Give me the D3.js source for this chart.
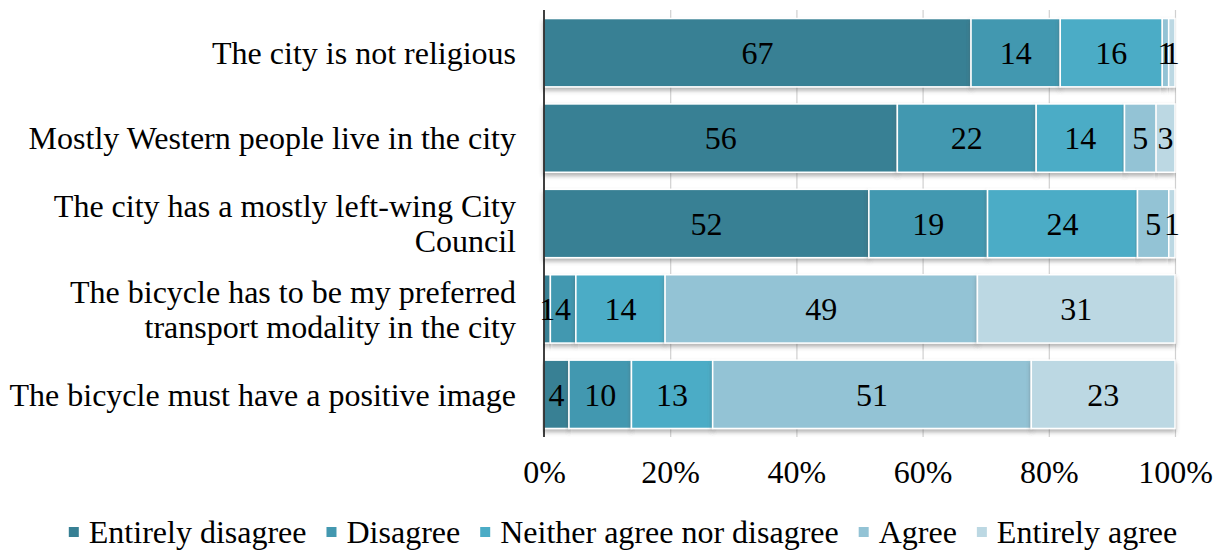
<!DOCTYPE html>
<html>
<head>
<meta charset="utf-8">
<script src="https://cdn.jsdelivr.net/npm/d3@7"></script>
<style>
  body { margin: 0; background: #fff; }
  text { font-family: "Liberation Serif", "Times New Roman", serif; fill: #000; }
</style>
</head>
<body>
<div id="chart"></div>
<script>
// data
const categories = [
  "The city is not religious",
  "Mostly Western people live in the city",
  "The city has a mostly left-wing City Council",
  "The bicycle has to be my preferred transport modality in the city",
  "The bicycle must have a positive image"
];
const categoryLines = [
  ["The city is not religious"],
  ["Mostly Western people live in the city"],
  ["The city has a mostly left-wing City", "Council"],
  ["The bicycle has to be my preferred", "transport modality in the city"],
  ["The bicycle must have a positive image"]
];
const seriesNames = ["Entirely disagree", "Disagree", "Neither agree nor disagree", "Agree", "Entirely agree"];
const entirelyDisagree = [67, 56, 52, 1, 4];
const disagree         = [14, 22, 19, 4, 10];
const neither          = [16, 14, 24, 14, 13];
const agree            = [1, 5, 5, 49, 51];
const entirelyAgree    = [1, 3, 1, 31, 23];
const tickValues = [0, 0.2, 0.4, 0.6, 0.8, 1];
const palette = ["#378094", "#4398b0", "#4bacc6", "#93c3d5", "#bcd8e3"];

const allSeries = [entirelyDisagree, disagree, neither, agree, entirelyAgree];
const keys = ["s0", "s1", "s2", "s3", "s4"];
const rows = categories.map((c, i) => {
  const r = {cat: c};
  keys.forEach((k, j) => r[k] = allSeries[j][i]);
  return r;
});

const W = 1217, H = 550;
const margin = {left: 544, right: 42, top: 10, bottom: 113};
const width = W - margin.left - margin.right;
const height = H - margin.top - margin.bottom;
const fs = "32px";

const svg = d3.select("#chart").append("svg")
  .attr("width", W).attr("height", H);

const defs = svg.append("defs");
const f = defs.append("filter").attr("id", "shadow")
  .attr("x", "-5%").attr("y", "-20%").attr("width", "110%").attr("height", "150%");
f.append("feDropShadow").attr("dx", 0).attr("dy", 3).attr("stdDeviation", 2)
  .attr("flood-color", "#555").attr("flood-opacity", 0.45);

const g = svg.append("g").attr("transform", "translate(" + margin.left + "," + margin.top + ")");

const x = d3.scaleLinear().domain([0, 1]).range([0, width]);
const y = d3.scaleBand().domain(categories).range([0, height]).paddingInner(0.2).paddingOuter(0.1);
const color = d3.scaleOrdinal().domain(keys).range(palette);

// gridlines
g.append("g")
  .attr("class", "grid")
  .call(d3.axisBottom(x).tickValues(tickValues.slice(1)).tickSize(height).tickFormat(""))
  .call(s => s.select(".domain").remove())
  .call(s => s.selectAll("line").attr("stroke", "#d0d0d0").attr("stroke-width", 1.2));

// bottom axis line
g.append("line")
  .attr("x1", 0).attr("x2", width).attr("y1", height).attr("y2", height)
  .attr("stroke", "#c8c8c8").attr("stroke-width", 1.5)
  .attr("filter", "url(#shadow)");

const stacked = d3.stack().keys(keys).offset(d3.stackOffsetExpand)(rows);

const layer = g.selectAll(".layer")
  .data(stacked)
  .enter().append("g")
  .attr("class", "layer")
  .attr("fill", d => color(d.key));

layer.selectAll("rect")
  .data(d => d)
  .enter().append("rect")
  .attr("x", d => x(d[0]))
  .attr("y", d => y(d.data.cat))
  .attr("width", d => x(d[1]) - x(d[0]))
  .attr("height", y.bandwidth())
  .attr("stroke", "#fff")
  .attr("stroke-width", 1.5)
  .attr("filter", "url(#shadow)");

// value labels
stacked.forEach(function(s) {
  g.selectAll(".lbl-" + s.key)
    .data(s)
    .enter().append("text")
    .attr("x", d => (x(d[0]) + x(d[1])) / 2)
    .attr("y", d => y(d.data.cat) + y.bandwidth() / 2)
    .attr("dy", "0.35em")
    .attr("text-anchor", "middle")
    .style("font-size", fs)
    .text(d => d.data[s.key]);
});

// y axis line
g.append("line")
  .attr("x1", 0).attr("x2", 0).attr("y1", 0).attr("y2", height)
  .attr("stroke", "#000").attr("stroke-width", 1.5);

// x tick labels
g.append("g")
  .attr("transform", "translate(0," + height + ")")
  .call(d3.axisBottom(x).tickValues(tickValues).tickSize(0).tickPadding(23).tickFormat(d3.format(".0%")))
  .call(s => s.select(".domain").remove())
  .call(s => s.selectAll("text").style("font-size", fs).style("font-family", "Liberation Serif"));

// category labels
categories.forEach(function(c, i) {
  const lines = categoryLines[i];
  const cy = y(c) + y.bandwidth() / 2;
  const lh = 35;
  const t = g.append("text")
    .attr("text-anchor", "end")
    .style("font-size", fs);
  lines.forEach(function(l, k) {
    t.append("tspan")
      .attr("x", -28)
      .attr("y", cy + (k - (lines.length - 1) / 2) * lh)
      .attr("dy", "0.35em")
      .text(l);
  });
});

// legend
const legend = svg.append("g");
let lx = 0;
seriesNames.forEach(function(n, i) {
  const it = legend.append("g");
  it.append("rect").attr("x", 0).attr("y", -5).attr("width", 10).attr("height", 10).attr("fill", palette[i]);
  const tx = it.append("text").attr("x", 20).attr("dy", "0.35em").style("font-size", fs).text(n);
  const w = 20 + tx.node().getComputedTextLength();
  it.attr("transform", "translate(" + lx + ",0)");
  lx += w + 20;
});
const total = lx - 20;
legend.attr("transform", "translate(" + (623 - total / 2) + ",532)");
</script>
</body>
</html>
